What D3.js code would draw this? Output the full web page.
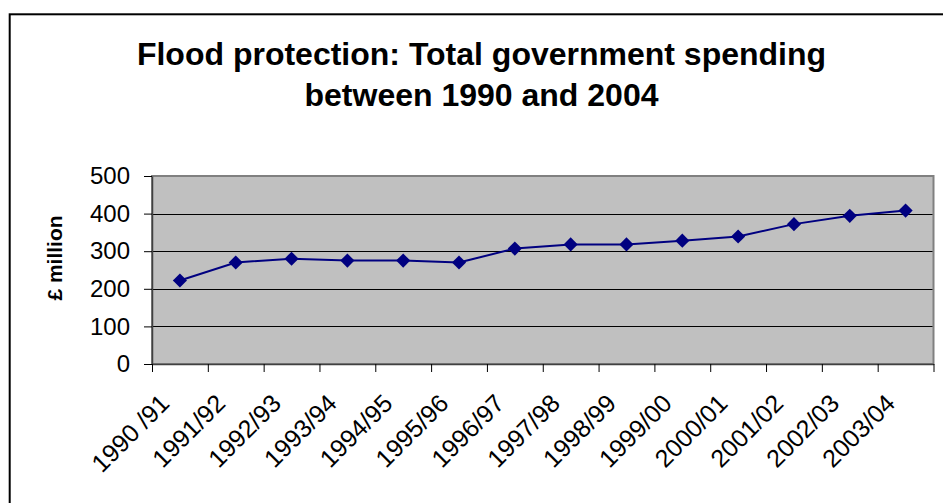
<!DOCTYPE html>
<html>
<head>
<meta charset="utf-8">
<script src="https://cdn.jsdelivr.net/npm/d3@7/dist/d3.min.js"></script>
<style>
  html, body { margin: 0; padding: 0; background: #fff; }
  svg { display: block; font-family: "Liberation Sans", Arial, sans-serif; }
</style>
</head>
<body>
<svg id="chart" width="943" height="503"></svg>
<script>
// chart data
var years = ["1990 /91", "1991/92", "1992/93", "1993/94", "1994/95", "1995/96", "1996/97",
             "1997/98", "1998/99", "1999/00", "2000/01", "2001/02", "2002/03", "2003/04"];
var spending = [222, 270, 280, 275, 275, 270, 307, 318, 318, 328, 339, 372, 394, 408];
var yTicks = [0, 100, 200, 300, 400, 500];
var titleLines = ["Flood protection: Total government spending", "between 1990 and 2004"];
var yTitle = "£ million";

var svg = d3.select("#chart");

var plot = { left: 152, top: 176, right: 933.5, bottom: 364 };

var x = d3.scaleBand()
    .domain(years)
    .range([plot.left, plot.right]);

var xEdges = d3.scaleLinear()
    .domain([0, years.length])
    .range([plot.left, plot.right]);

var y = d3.scaleLinear()
    .domain([0, 500])
    .range([plot.bottom, plot.top]);

// outer chart frame (runs off the right and bottom edges)
svg.append("rect")
    .attr("x", 9.7)
    .attr("y", 14.3)
    .attr("width", 960)
    .attr("height", 520)
    .attr("fill", "none")
    .attr("stroke", "#000")
    .attr("stroke-width", 2);

// title
var title = svg.append("text")
    .attr("text-anchor", "middle")
    .attr("font-weight", "bold")
    .attr("font-size", 32)
    .attr("fill", "#000");
title.selectAll("tspan")
    .data(titleLines)
    .enter()
    .append("tspan")
        .attr("x", 481.5)
        .attr("y", function (d, i) {
            return 65 + i * 41;
        })
        .text(function (d) {
            return d;
        });

// plot area
svg.append("rect")
    .attr("x", plot.left)
    .attr("y", plot.top)
    .attr("width", plot.right - plot.left)
    .attr("height", plot.bottom - plot.top)
    .attr("fill", "#c0c0c0")
    .attr("stroke", "#808080")
    .attr("stroke-width", 2);

// gridlines
svg.append("g")
    .selectAll("line")
    .data(yTicks.filter(function (t) { return t > 0 && t < 500; }))
    .enter()
    .append("line")
        .attr("x1", plot.left)
        .attr("x2", plot.right - 1)
        .attr("y1", function (t) { return Math.round(y(t)) + 0.5; })
        .attr("y2", function (t) { return Math.round(y(t)) + 0.5; })
        .attr("stroke", "#000")
        .attr("stroke-width", 1);

// y axis
var yAxis = svg.append("g")
    .attr("transform", "translate(" + plot.left + ",0)")
    .call(d3.axisLeft(y).tickValues(yTicks).tickSize(8).tickPadding(14).tickSizeOuter(0));
yAxis.select(".domain").attr("stroke", "#404040").attr("stroke-width", 1.5);
yAxis.selectAll(".tick line").attr("stroke", "#000");
yAxis.selectAll(".tick text")
    .attr("font-size", 24)
    .attr("font-family", "Liberation Sans, Arial, sans-serif")
    .attr("fill", "#000");

// x axis tick marks on category edges
var xAxis = svg.append("g")
    .attr("transform", "translate(0," + plot.bottom + ")")
    .call(d3.axisBottom(xEdges).ticks(years.length).tickSize(8).tickFormat("").tickSizeOuter(0));
xAxis.select(".domain").attr("stroke", "#404040").attr("stroke-width", 1.5);
xAxis.selectAll(".tick line").attr("stroke", "#000");

// category labels, rotated
svg.append("g")
    .selectAll("text")
    .data(years)
    .enter()
    .append("text")
        .attr("transform", function (d) {
            return "translate(" + (x(d) + x.bandwidth() / 2 - 9) + ",405) rotate(-45)";
        })
        .attr("text-anchor", "end")
        .attr("font-size", 25)
        .attr("fill", "#000")
        .text(function (d) { return d; });

// y axis title
svg.append("text")
    .attr("transform", "translate(62,258) rotate(-90)")
    .attr("text-anchor", "middle")
    .attr("font-weight", "bold")
    .attr("font-size", 21)
    .attr("fill", "#000")
    .text(yTitle);

// series line
var line = d3.line()
    .x(function (d, i) { return x(years[i]) + x.bandwidth() / 2; })
    .y(function (d) { return y(d); });

svg.append("path")
    .datum(spending)
    .attr("d", line)
    .attr("fill", "none")
    .attr("stroke", "#000080")
    .attr("stroke-width", 2);

// diamond markers
svg.append("g")
    .selectAll("path")
    .data(spending)
    .enter()
    .append("path")
        .attr("d", d3.symbol().type(d3.symbolSquare).size(100))
        .attr("transform", function (d, i) {
            return "translate(" + (x(years[i]) + x.bandwidth() / 2) + "," + y(d) + ") rotate(45)";
        })
        .attr("fill", "#000080");
</script>
</body>
</html>
